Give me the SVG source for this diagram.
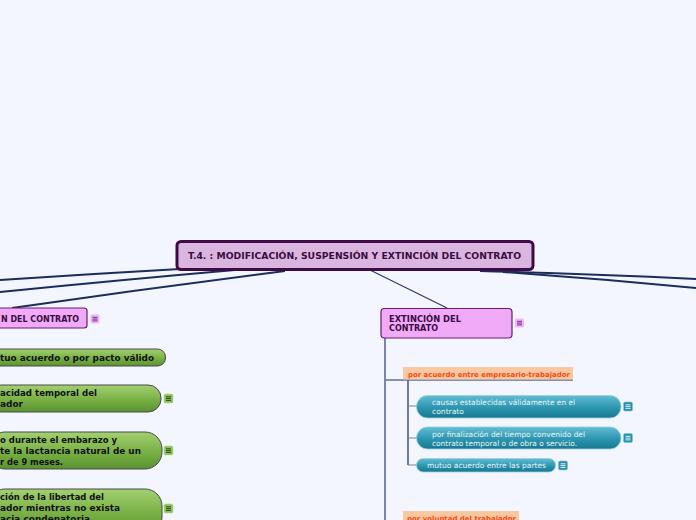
<svg xmlns="http://www.w3.org/2000/svg" width="696" height="520" viewBox="0 0 696 520">
<defs>
<linearGradient id="gGreen" x1="0" y1="0" x2="0" y2="1">
<stop offset="0" stop-color="#a3d070"/>
<stop offset="0.55" stop-color="#78b045"/>
<stop offset="1" stop-color="#5a922e"/>
</linearGradient>
<linearGradient id="gTeal" x1="0" y1="0" x2="0" y2="1">
<stop offset="0" stop-color="#62bdd4"/>
<stop offset="0.55" stop-color="#2c95b0"/>
<stop offset="1" stop-color="#17788f"/>
</linearGradient>
<g id="iconTeal"><rect x="0" y="0" width="9" height="9" rx="1.5" fill="#2a8fab" stroke="#7cc4d6" stroke-width="0.6"/><path d="M2 2.8h5M2 4.6h5M2 6.4h5" stroke="#d8f0f6" stroke-width="1"/></g>
<g id="iconGreen"><rect x="0" y="0" width="9" height="9" rx="1.5" fill="#8cc05a" stroke="#b7dc92" stroke-width="0.6"/><path d="M2 2.8h5M2 4.6h5M2 6.4h5" stroke="#2e4a1a" stroke-width="1"/></g>
<g id="iconPink"><rect x="0" y="0" width="9" height="9" rx="1.5" fill="#f2b4f8"/><path d="M2 2.8h5M2 4.6h5M2 6.4h5" stroke="#7a2a86" stroke-width="1"/></g>
</defs>
<style>
.main{fill:none;stroke:#1c2d5c;stroke-width:2}
.thin{fill:none;stroke:#2a3a6a;stroke-width:1.2}
.trunk{fill:none;stroke:#5f6a92;stroke-width:1.6}
.sub{fill:none;stroke:#2a3566;stroke-width:1.3}
.twig{fill:none;stroke:#7a84a8;stroke-width:1.2}
.gbox{fill:url(#gGreen);stroke:#4a4a4a;stroke-width:1}
.tbox{fill:url(#gTeal);stroke:#9bd0de;stroke-width:0.8}
.pbox{fill:#f0aaf8;stroke:#6a1a72;stroke-width:1.2}
.obox{fill:#f9c8a0}
.gt{font-family:"DejaVu Sans",Verdana,sans-serif;font-weight:bold;font-size:8.5px;fill:#111}
.tt{font-family:"DejaVu Sans",Verdana,sans-serif;font-size:7.5px;fill:#e8f5f8}
.pt{font-family:"DejaVu Sans",Verdana,sans-serif;font-weight:bold;font-size:8px;fill:#3a0c40}
.ot{font-family:"DejaVu Sans",Verdana,sans-serif;font-weight:bold;font-size:7px;fill:#f44a12}
</style>
<rect x="0" y="0" width="696" height="520" fill="#f3f6fe"/>
<g id="connectors">
<path class="main" d="M180 269 Q90 274 0 280"/>
<path class="main" d="M235 270 Q120 280 0 292"/>
<path class="main" d="M285 271 Q150 288 12 308"/>
<path class="main" d="M480 271 Q590 274 696 279"/>
<path class="main" d="M503 272 Q600 279 696 288"/>
<path class="thin" d="M370 270 L447 308"/>
<path class="trunk" d="M385 338 V520"/>
<path class="trunk" d="M385 380 H573"/>
<path class="sub" d="M408 380 V465"/>
<path class="twig" d="M408 406 H417 M408 438 H417 M408 465 H417"/>
</g>
<g id="central">
<rect x="177" y="241.5" width="356" height="28" rx="4" fill="#dab5e0" stroke="#3d0c45" stroke-width="3"/>
<text x="188" y="259" font-family="DejaVu Sans,Verdana,sans-serif" font-weight="bold" font-size="8.5" fill="#3a0c40" textLength="333" lengthAdjust="spacingAndGlyphs">T.4. : MODIFICACIÓN, SUSPENSIÓN Y EXTINCIÓN DEL CONTRATO</text>
</g>
<g id="suspension">
<rect class="pbox" x="-6" y="308" width="93" height="20" rx="3"/>
<text class="pt" x="1" y="322" textLength="78" lengthAdjust="spacingAndGlyphs">N DEL CONTRATO</text>
<use href="#iconPink" x="90.5" y="314.5"/>
</g>
<g id="s1">
<rect class="gbox" x="-12" y="349" width="177.5" height="17" rx="8"/>
<text class="gt" x="0" y="361" textLength="154" lengthAdjust="spacingAndGlyphs">tuo acuerdo o por pacto válido</text>
</g>
<g id="s2">
<rect class="gbox" x="-12" y="385" width="173" height="27" rx="13"/>
<text class="gt" x="0" y="396" textLength="97" lengthAdjust="spacingAndGlyphs">acidad temporal del</text>
<text class="gt" x="0" y="407" textLength="23" lengthAdjust="spacingAndGlyphs">ador</text>
<use href="#iconGreen" x="164" y="394"/>
</g>
<g id="s3">
<rect class="gbox" x="-12" y="432" width="174" height="37" rx="17"/>
<text class="gt" x="0" y="443" textLength="117" lengthAdjust="spacingAndGlyphs">o durante el embarazo y</text>
<text class="gt" x="0" y="454" textLength="141" lengthAdjust="spacingAndGlyphs">te la lactancia natural de un</text>
<text class="gt" x="0" y="465" textLength="63" lengthAdjust="spacingAndGlyphs">r de 9 meses.</text>
<use href="#iconGreen" x="164" y="446"/>
</g>
<g id="s4">
<rect class="gbox" x="-12" y="489" width="174" height="45" rx="17"/>
<text class="gt" x="0" y="500" textLength="104" lengthAdjust="spacingAndGlyphs">ción de la libertad del</text>
<text class="gt" x="0" y="511" textLength="120" lengthAdjust="spacingAndGlyphs">ador mientras no exista</text>
<text class="gt" x="0" y="522" textLength="90" lengthAdjust="spacingAndGlyphs">acia condenatoria</text>
<use href="#iconGreen" x="164" y="504"/>
</g>
<g id="extincion">
<rect class="pbox" x="381" y="308.5" width="131" height="29.5" rx="3.5"/>
<text class="pt" x="389" y="322" textLength="72" lengthAdjust="spacingAndGlyphs">EXTINCIÓN DEL</text>
<text class="pt" x="389" y="331" textLength="49" lengthAdjust="spacingAndGlyphs">CONTRATO</text>
<use href="#iconPink" x="515" y="318.5"/>
</g>
<g id="acuerdo">
<rect class="obox" x="403" y="367" width="170" height="13"/>
<path d="M385 380 H573" stroke="#8a92b4" stroke-width="1.2"/>
<text class="ot" x="408" y="376.5" textLength="162" lengthAdjust="spacingAndGlyphs">por acuerdo entre empresario-trabajador</text>
</g>
<g id="e1">
<rect class="tbox" x="416.5" y="395.5" width="204.5" height="22.5" rx="11"/>
<text class="tt" x="432" y="405" textLength="143" lengthAdjust="spacingAndGlyphs">causas establecidas válidamente en el</text>
<text class="tt" x="432" y="414" textLength="32" lengthAdjust="spacingAndGlyphs">contrato</text>
<use href="#iconTeal" x="623.5" y="402"/>
</g>
<g id="e2">
<rect class="tbox" x="416.5" y="427" width="204.5" height="22" rx="11"/>
<text class="tt" x="432" y="437" textLength="153" lengthAdjust="spacingAndGlyphs">por finalización del tiempo convenido del</text>
<text class="tt" x="432" y="446" textLength="145" lengthAdjust="spacingAndGlyphs">contrato temporal o de obra o servicio.</text>
<use href="#iconTeal" x="623.5" y="433.5"/>
</g>
<g id="e3">
<rect class="tbox" x="416.5" y="458.5" width="139" height="13.5" rx="6.5"/>
<text class="tt" x="427" y="467.5" textLength="119" lengthAdjust="spacingAndGlyphs">mutuo acuerdo entre las partes</text>
<use href="#iconTeal" x="558.5" y="461"/>
</g>
<g id="voluntad">
<rect class="obox" x="403" y="511" width="116" height="14"/>
<text class="ot" x="407" y="520.5" textLength="109" lengthAdjust="spacingAndGlyphs">por voluntad del trabajador</text>
</g>
</svg>
